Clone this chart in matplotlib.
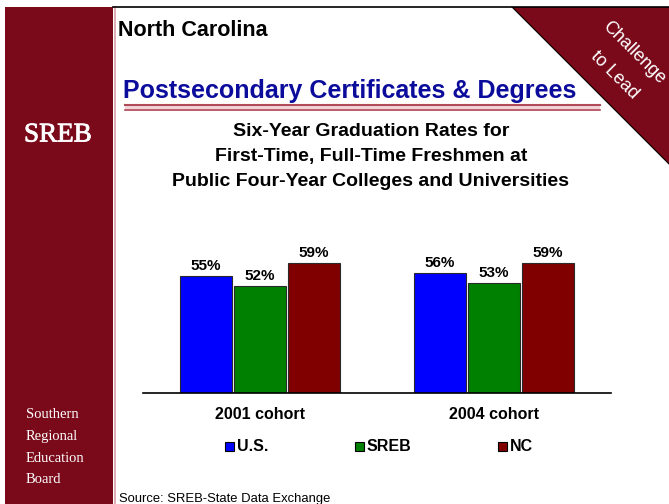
import matplotlib
matplotlib.use("Agg")

import matplotlib.pyplot as plt
import matplotlib.patheffects as pe
from matplotlib.patches import Polygon, Rectangle
import numpy as np

plt.rcParams["font.family"] = ["Liberation Sans", "DejaVu Sans"]

# ── data ─────────────────────────────────────────────
cohorts = ["2001 cohort", "2004 cohort"]
series = ["U.S.", "SREB", "NC"]
us_rates = [55, 56]
sreb_rates = [52, 53]
nc_rates = [59, 59]

colors = ["#0000ff", "#008000", "#800000"]
maroon = "#7a0a1a"
title_blue = "#0c0c9c"

W, H = 669, 504
fig = plt.figure(figsize=(W / 100, H / 100), dpi=100)

# background layer in pixel coordinates
bg = fig.add_axes([0, 0, 1, 1])
bg.set_xlim(0, W)
bg.set_ylim(H, 0)
bg.axis("off")

# left band
bg.add_patch(Rectangle((5, 7), 108, H - 7, facecolor=maroon, edgecolor="none"))
bg.plot([114.5, 114.5], [7, H], color="#d9a0a8", lw=1.2)
# top border
bg.plot([113, W], [7, 7], color="black", lw=1.2)

# corner banner
bg.add_patch(Polygon([(512, 7), (W, 7), (W, 164)], closed=True,
                     facecolor=maroon, edgecolor="none"))
bg.plot([512, W], [7, 164], color="black", lw=0.8)
bg.text(634, 53, "Challenge", color="white", fontsize=13, rotation=-45,
        ha="center", va="center")
bg.text(614, 75, "to Lead", color="white", fontsize=13, rotation=-45,
        ha="center", va="center")

bg.text(24, 135, "SREB", color="white", fontsize=19.5, family="Liberation Serif",
        ha="left", va="center",
        path_effects=[pe.withStroke(linewidth=0.6, foreground="white")])
for i, word in enumerate(["Southern", "Regional", "Education", "Board"]):
    bg.text(26, 415 + 21.5 * i, word, color="white", fontsize=10.5,
            family="Liberation Serif", ha="left", va="center")

bg.text(118, 30, "North Carolina", fontsize=15.5, fontweight="bold",
        ha="left", va="center")
bg.text(123, 91, "Postsecondary Certificates & Degrees", fontsize=18,
        fontweight="bold", color=title_blue, ha="left", va="center")

# double rule under the heading
bg.add_patch(Rectangle((125, 104), 475, 7, facecolor="#f0d4d8", edgecolor="none"))
bg.plot([125, 600], [105.2, 105.2], color="#b04a58", lw=1.5)
bg.plot([125, 600], [109.6, 109.6], color="#b04a58", lw=1.2)

chart_title = ["Six-Year Graduation Rates for",
               "First-Time, Full-Time Freshmen at",
               "Public Four-Year Colleges and Universities"]
for i, line in enumerate(chart_title):
    bg.text(371, 131 + 25.5 * i, line, fontsize=14, fontweight="bold",
            ha="center", va="center")

bg.text(119, 502, "Source: SREB-State Data Exchange", fontsize=9.4,
        ha="left", va="baseline")

# ── bar chart ───────────────────────────────────────
ax = fig.add_axes([143 / W, 1 - 393 / H, 468 / W, 200 / H])
ax.patch.set_alpha(0)
x = np.arange(len(cohorts))
step = 0.2305
for k, (name, vals, col) in enumerate(zip(series, [us_rates, sreb_rates, nc_rates], colors)):
    pos = x + (k - 1) * step
    ax.bar(pos, vals, width=0.222, bottom=0, color=col, edgecolor="#2a2a2a",
           linewidth=0.8, label=name, zorder=2)
    for px, v in zip(pos, vals):
        ax.annotate(f"{v}%", (px, v), xytext=(0, 4.5), textcoords="offset points",
                    ha="center", va="baseline", fontsize=11, fontweight="bold")

ax.set_xlim(-0.5, 1.5)
ax.set_ylim(20, 80)
for s in ["top", "right", "left"]:
    ax.spines[s].set_visible(False)
ax.spines["bottom"].set_linewidth(1.2)
ax.set_yticks([])
ax.set_xticks(x)
ax.set_xticklabels(cohorts, fontsize=11.5, fontweight="bold")
ax.tick_params(axis="x", length=0, pad=10)

# legend drawn as squares + labels
legend_x = [225, 355, 498]
for lx, name, col in zip(legend_x, series, colors):
    bg.add_patch(Rectangle((lx, 442), 9, 9, facecolor=col, edgecolor="black", lw=0.8))
    bg.text(lx + 12, 446.5, name, fontsize=11.5, fontweight="bold",
            ha="left", va="center")

fig.savefig("out.png", dpi=100)
